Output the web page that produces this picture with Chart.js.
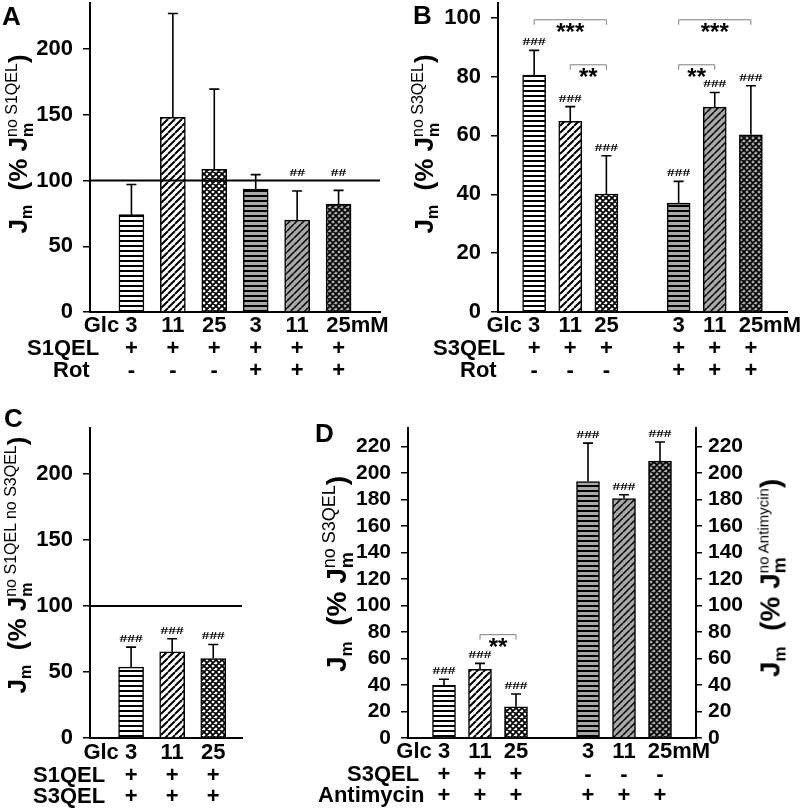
<!DOCTYPE html>
<html>
<head>
<meta charset="utf-8">
<script src="https://cdn.jsdelivr.net/npm/chart.js@4.4.1/dist/chart.umd.min.js"></script>
<style>
body { margin: 0; background: #fff; width: 800px; height: 808px; position: relative; overflow: hidden; font-family: 'Liberation Sans', Arial, sans-serif; }
canvas { position: absolute; left: 0; top: 0; }
.letter { position: absolute; font-weight: bold; font-size: 26px; line-height: 1; }
.yt { position: absolute; white-space: nowrap; font-weight: bold; font-size: 26px; line-height: 1;
      transform: translate(-50%, -50%) rotate(-90deg); }
.yt sub { font-size: 16px; vertical-align: -5px; }
.st { display: inline-flex; flex-direction: column; font-size: 16px; line-height: 1; vertical-align: 10px; }
.st .up { font-weight: normal; }
.yt.big { font-size: 28px; }
.yt.big sub { font-size: 17px; vertical-align: -6px; }
.yt.big .st { font-size: 18px; vertical-align: 11px; }
.yt.big .st .up.s { font-size: 15px; }
</style>
</head>
<body>
<canvas id="cA" width="800" height="808"></canvas>
<canvas id="cB" width="800" height="808"></canvas>
<canvas id="cC" width="800" height="808"></canvas>
<canvas id="cD" width="800" height="808"></canvas>

<div class="letter" style="left:2px;top:3px">A</div>
<div class="letter" style="left:413px;top:2px">B</div>
<div class="letter" style="left:4px;top:405px">C</div>
<div class="letter" style="left:315px;top:420px">D</div>

<div class="yt" style="left:20px;top:144px">J<sub>m</sub>&nbsp;&nbsp;(% J<span class="st"><span class="up">no S1QEL</span><span>m</span></span>)</div>
<div class="yt" style="left:426px;top:144px">J<sub>m</sub>&nbsp;&nbsp;(% J<span class="st"><span class="up">no S3QEL</span><span>m</span></span>)</div>
<div class="yt" style="left:19px;top:565px">J<sub>m</sub>&nbsp;&nbsp;(% J<span class="st"><span class="up">no S1QEL no S3QEL</span><span>m</span></span>)</div>
<div class="yt big" style="left:338px;top:574px">J<sub>m</sub>&nbsp;&nbsp;(% J<span class="st"><span class="up">no S3QEL</span><span>m</span></span>)</div>
<div class="yt big" style="left:772px;top:578px">J<sub>m</sub>&nbsp;&nbsp;(% J<span class="st"><span class="up s">no Antimycin</span><span>m</span></span>)</div>

<script>
// glucose concentrations (mM) under each bar
const glc = ['3', '11', '25', '3', '11', '25'];
const glcC = ['3', '11', '25'];

// A: S1QEL (+/- rotenone)
const aMean = [74, 148, 108.5, 93.5, 70, 82];
const aSd = [23, 79, 61, 11, 22, 10.5];
const aHash = ['', '', '', '', '##', '##'];
const aS1QEL = ['+', '+', '+', '+', '+', '+'];
const aRot = ['-', '-', '-', '+', '+', '+'];

// B: S3QEL (+/- rotenone)
const bMean = [80.5, 64.8, 40.1, 37, 69.6, 60.2];
const bSd = [8.4, 5, 13, 7.4, 5, 16.7];
const bHash = ['###', '###', '###', '###', '###', '###'];
const bS3QEL = ['+', '+', '+', '+', '+', '+'];
const bRot = ['-', '-', '-', '+', '+', '+'];
const bSig = [[0, 2, '***', 99.3], [1, 2, '**', 84], [3, 5, '***', 99.3], [3, 4, '**', 84]];

// C: S1QEL + S3QEL
const cMean = [53.7, 65.4, 60.3];
const cSd = [15.2, 9.8, 10.6];
const cHash = ['###', '###', '###'];
const cS1QEL = ['+', '+', '+'];
const cS3QEL = ['+', '+', '+'];

// D: S3QEL / antimycin
const dMean = [39.8, 51.8, 23.6, 193.6, 180.8, 209];
const dSd = [4.6, 4.5, 9.6, 29, 2.8, 14.4];
const dHash = ['###', '###', '###', '###', '###', '###'];
const dS3QEL = ['+', '+', '+', '-', '-', '-'];
const dAnti = ['+', '+', '+', '+', '+', '+'];
const dSig = [[1, 2, '**', 78]];

// bar slots on the x axis (gap between the two groups in B and D)
const slots6 = [1, 2, 3, 4, 5, 6];
const slotsGap = [1, 2, 3, 5, 6, 7];
const slots3 = [1, 2, 3];

const FONT = 'Liberation Sans, Arial, sans-serif';
const GRAY = '#a8a8a8';

function hatch(kind, bg) {
    const s = kind === 'h' ? 5 : (kind === 'd' ? 7 : 6);
    const c = document.createElement('canvas');
    c.width = s; c.height = s;
    const g = c.getContext('2d');
    g.fillStyle = bg;
    g.fillRect(0, 0, s, s);
    g.strokeStyle = '#000';
    g.beginPath();
    if (kind === 'h') {
        g.lineWidth = 2;
        g.moveTo(0, 1); g.lineTo(s, 1);
    } else {
        g.lineWidth = kind === 'd' ? (bg === '#fff' ? 2 : 1.5) : (bg === '#fff' ? 1.8 : 1.6);
        for (let k = -1; k <= 1; k++) { g.moveTo(k * s, s); g.lineTo(k * s + s, 0); }
        if (kind === 'x') {
            for (let k = -1; k <= 1; k++) { g.moveTo(k * s, 0); g.lineTo(k * s + s, s); }
        }
    }
    g.stroke();
    return g.createPattern(c, 'repeat');
}

const fills6 = [hatch('h', '#fff'), hatch('d', '#fff'), hatch('x', '#fff'),
                hatch('h', GRAY), hatch('d', GRAY), hatch('x', GRAY)];

function decor(p) {
    return {
        id: 'decor',
        afterDatasetsDraw(chart) {
            const ctx = chart.ctx;
            const xs = chart.scales.x, ys = chart.scales.y;
            const area = chart.chartArea;
            ctx.save();
            if (p.ref != null) {
                const yr = ys.getPixelForValue(p.ref);
                ctx.strokeStyle = '#000';
                ctx.lineWidth = 2;
                ctx.beginPath();
                ctx.moveTo(area.left, yr); ctx.lineTo(area.right, yr);
                ctx.stroke();
            }
            // error bars + hash marks
            p.mean.forEach((m, i) => {
                const px = xs.getPixelForValue(p.slots[i]);
                const base = ys.getPixelForValue(m);
                const top = ys.getPixelForValue(m + p.sd[i]);
                ctx.strokeStyle = '#000';
                ctx.lineWidth = 1.6;
                ctx.beginPath();
                ctx.moveTo(px, base); ctx.lineTo(px, top);
                ctx.moveTo(px - 5, top); ctx.lineTo(px + 5, top);
                ctx.stroke();
                if (p.hash[i]) {
                    let hy = top;
                    if (p.ref != null && p.hashAboveRef) hy = Math.min(hy, ys.getPixelForValue(p.ref));
                    ctx.save();
                    ctx.translate(px, hy - 5);
                    ctx.scale(1.4, 1);
                    ctx.font = 'bold 11px Liberation Serif, serif';
                    ctx.fillStyle = '#000';
                    ctx.textAlign = 'center';
                    ctx.textBaseline = 'alphabetic';
                    ctx.fillText(p.hash[i], 0, 0);
                    ctx.restore();
                }
            });
            // significance brackets
            (p.sig || []).forEach(([i, j, txt, v]) => {
                const x1 = xs.getPixelForValue(p.slots[i]);
                const x2 = xs.getPixelForValue(p.slots[j]);
                const yb = ys.getPixelForValue(v);
                ctx.strokeStyle = '#7f7f7f';
                ctx.lineWidth = 1;
                ctx.beginPath();
                ctx.moveTo(x1, yb + 5); ctx.lineTo(x1, yb); ctx.lineTo(x2, yb); ctx.lineTo(x2, yb + 5);
                ctx.stroke();
                ctx.fillStyle = '#000';
                ctx.font = 'bold 24px ' + FONT;
                ctx.textAlign = 'center';
                ctx.textBaseline = 'alphabetic';
                ctx.fillText(txt, (x1 + x2) / 2, yb + 20);
            });
            // rows of labels under the axis
            ctx.fillStyle = '#000';
            ctx.font = 'bold 22px ' + FONT;
            ctx.textBaseline = 'alphabetic';
            p.rows.forEach((row) => {
                const yy = area.bottom + row.dy;
                row.items.forEach((t, i) => {
                    const px = xs.getPixelForValue(p.slots[i]);
                    ctx.textAlign = 'center';
                    ctx.fillText(t, px, yy);
                    if (i === 0 && row.pre) {
                        ctx.textAlign = 'right';
                        ctx.fillText(row.pre + ' ', px - ctx.measureText(t).width / 2, yy);
                    }
                    if (i === row.items.length - 1 && row.post) {
                        ctx.textAlign = 'left';
                        ctx.fillText(row.post, px + ctx.measureText(t).width / 2, yy);
                    }
                });
                if (row.name) {
                    ctx.textAlign = 'left';
                    ctx.fillText(row.name, row.nx, yy);
                }
            });
            ctx.restore();
        }
    };
}

function yAxis(max, step, pos, pad, size) {
    return {
        type: 'linear', position: pos, min: 0, max: max,
        afterFit: (s) => { s.width = 70; s.paddingTop = 0; s.paddingBottom = 0; },
        border: { display: true, color: '#000', width: 2 },
        grid: { drawOnChartArea: false, drawTicks: true, tickLength: 7, color: '#000', lineWidth: 1.5 },
        ticks: { stepSize: step, includeBounds: false, autoSkip: false, padding: pad, color: '#000',
                 font: { family: FONT, size: size, weight: 'bold' } }
    };
}

function panel(id, area, maxX, maxY, step, vals, fills, p, right) {
    const yW = 70, xH = 20;
    const fs = right ? 21 : 22;
    const scales = {
        x: {
            type: 'linear', min: 0, max: maxX, offset: false,
            afterFit: (s) => { s.height = xH; s.paddingLeft = 0; s.paddingRight = 0; },
            border: { display: true, color: '#000', width: 2 },
            grid: { display: false },
            ticks: { display: false }
        },
        y: yAxis(maxY, step, 'left', 10, fs)
    };
    if (right) {
        scales.y2 = yAxis(maxY, step, 'right', 6, fs);
        scales.y2.grid.tickLength = 6;
    }
    const chart = new Chart(document.getElementById(id), {
        type: 'bar',
        data: {
            datasets: [{
                data: vals.map((v, i) => ({ x: p.slots[i], y: v })),
                backgroundColor: fills,
                borderColor: '#000',
                borderWidth: 1.5,
                barThickness: p.bw,
                yAxisID: 'y'
            }]
        },
        options: {
            responsive: false,
            animation: false,
            devicePixelRatio: 1,
            layout: {
                padding: {
                    left: area.l - yW,
                    top: area.t,
                    right: 800 - area.r - (right ? yW : 0),
                    bottom: 808 - area.b - xH
                }
            },
            scales: scales,
            plugins: { legend: { display: false }, tooltip: { enabled: false } }
        },
        plugins: [decor(p)]
    });
    // nudge the plot area onto the wanted box if the layout shifted it
    const ca = chart.chartArea;
    const pad = chart.options.layout.padding;
    const dl = area.l - ca.left, dt = area.t - ca.top, dr = ca.right - area.r, db = ca.bottom - area.b;
    if (Math.abs(dl) + Math.abs(dt) + Math.abs(dr) + Math.abs(db) > 0.5) {
        chart.options.layout.padding = {
            left: pad.left + dl, top: pad.top + dt, right: pad.right + dr, bottom: pad.bottom + db
        };
        chart.update();
    }
}

panel('cA', { l: 90, t: 3, r: 380, b: 312 }, 7, 235, 50, aMean, fills6, {
    slots: slots6, mean: aMean, sd: aSd, hash: aHash, ref: 100, hashAboveRef: true, bw: 25,
    rows: [
        { dy: 20, items: glc, pre: 'Glc', post: 'mM' },
        { dy: 43, items: aS1QEL, name: 'S1QEL', nx: 27 },
        { dy: 65, items: aRot, name: 'Rot', nx: 53 }
    ]
}, false);

panel('cB', { l: 498, t: 3, r: 787, b: 312 }, 8, 105, 20, bMean, fills6, {
    slots: slotsGap, mean: bMean, sd: bSd, hash: bHash, sig: bSig, bw: 23,
    rows: [
        { dy: 20, items: glc, pre: 'Glc', post: 'mM' },
        { dy: 43, items: bS3QEL, name: 'S3QEL', nx: 433 },
        { dy: 65, items: bRot, name: 'Rot', nx: 460 }
    ]
}, false);

panel('cC', { l: 90, t: 428, r: 242, b: 738 }, 3.7, 235, 50, cMean, fills6.slice(0, 3), {
    slots: slots3, mean: cMean, sd: cSd, hash: cHash, ref: 100, bw: 25,
    rows: [
        { dy: 21, items: glcC, pre: 'Glc' },
        { dy: 44, items: cS1QEL, name: 'S1QEL', nx: 33 },
        { dy: 65, items: cS3QEL, name: 'S3QEL', nx: 33 }
    ]
}, false);

panel('cD', { l: 408, t: 428, r: 696, b: 738 }, 8, 234, 20, dMean, fills6, {
    slots: slotsGap, mean: dMean, sd: dSd, hash: dHash, sig: dSig, bw: 23,
    rows: [
        { dy: 20, items: glc, pre: 'Glc', post: 'mM' },
        { dy: 43, items: dS3QEL, name: 'S3QEL', nx: 347 },
        { dy: 64, items: dAnti, name: 'Antimycin', nx: 318 }
    ]
}, true);
</script>
</body>
</html>
